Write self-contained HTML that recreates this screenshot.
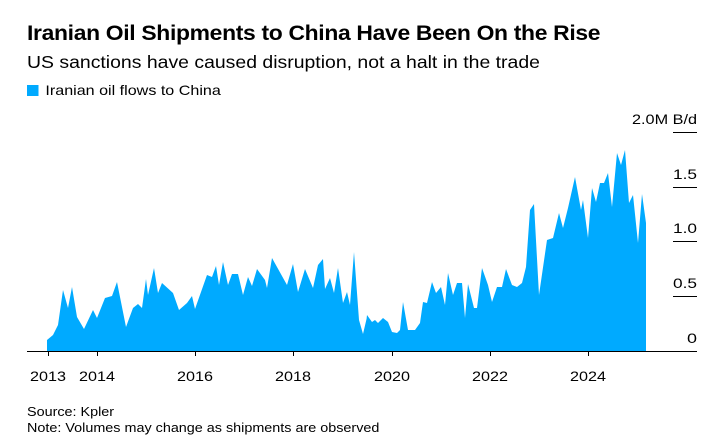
<!DOCTYPE html>
<html><head><style>
body{margin:0;background:#fff;font-family:"Liberation Sans",sans-serif;}
div{transform-origin:0 0;white-space:nowrap}
.t{position:absolute;left:27px;top:22px;font-size:21px;font-weight:bold;color:#000;letter-spacing:-0.3px;transform:scaleX(1.09)}
.s{position:absolute;left:27px;top:52px;font-size:17.5px;color:#000;transform:scaleX(1.11)}
.l{position:absolute;left:27px;top:82px;font-size:14px;color:#000;transform:scaleX(1.15)}
.l i{display:inline-block;width:10px;height:11px;background:#00aaff;margin-right:6px;vertical-align:-1px}
.f{position:absolute;left:27px;font-size:12.5px;color:#000;transform:scaleX(1.15)}
</style></head><body>
<div class="t">Iranian Oil Shipments to China Have Been On the Rise</div>
<div class="s">US sanctions have caused disruption, not a halt in the trade</div>
<div class="l"><i></i>Iranian oil flows to China</div>
<svg width="725" height="442" style="position:absolute;left:0;top:0">
<polygon fill="#00aaff" points="47,351 47,340 53,335 58,325 63,290 68,308 72,287 77,317 84,329 93,310 97,318 105,298 112,296 117,282 126,327 133,308 138,304 142,308 146,279 148,295 154,268 158,293 162,283 173,293 179,310 187,303 192,296 195,309 207,275 212,277 216,266 219,285 223,262 228,285 232,274 238,274 243,295 248,277 252,286 257,269 265,280 267,288 272,258 287,285 293,264 298,292 305,269 313,288 318,265 323,259 325,289 330,278 334,293 338,268 343,303 347,292 350,305 354,252 359,320 363,334 367,317 370,322 365,333 367,315 372,322 375,320 378,323 383,318 388,322 392,332 397,333 400,330 403,302 408,330 415,330 420,323 423,302 427,303 432,282 436,293 441,287 445,305 448,273 453,295 457,283 462,283 465,318 468,284 474,308 477,308 482,268 488,285 492,302 497,287 502,287 506,269 512,285 517,287 522,283 526,267 530,210 534,204 539,295 547,240 553,238 559,213 563,228 568,208 575,177 581,210 583,200 588,238 592,188 596,202 600,183 604,183 608,173 612,207 617,153 621,165 625,150 629,203 633,195 638,243 642,194 646,223 646,351"/>
<line x1="27" y1="351.5" x2="697" y2="351.5" stroke="#000" stroke-width="1"/>
<g stroke="#000" stroke-width="1">
<line x1="673" y1="296.5" x2="697" y2="296.5"/><line x1="673" y1="241.5" x2="697" y2="241.5"/><line x1="673" y1="187.5" x2="697" y2="187.5"/><line x1="673" y1="132.5" x2="697" y2="132.5"/>
<line x1="48.5" y1="351" x2="48.5" y2="356"/><line x1="97.5" y1="351" x2="97.5" y2="356"/><line x1="195.5" y1="351" x2="195.5" y2="356"/><line x1="293.5" y1="351" x2="293.5" y2="356"/><line x1="392.5" y1="351" x2="392.5" y2="356"/><line x1="490.5" y1="351" x2="490.5" y2="356"/><line x1="588.5" y1="351" x2="588.5" y2="356"/>
</g>
<g font-family="Liberation Sans" font-size="14" fill="#000" text-anchor="end">
<text x="697" y="343" textLength="10" lengthAdjust="spacingAndGlyphs">0</text><text x="697" y="288" textLength="24" lengthAdjust="spacingAndGlyphs">0.5</text><text x="697" y="233" textLength="24" lengthAdjust="spacingAndGlyphs">1.0</text><text x="697" y="179" textLength="24" lengthAdjust="spacingAndGlyphs">1.5</text><text x="697" y="124" textLength="65" lengthAdjust="spacingAndGlyphs">2.0M B/d</text>
</g>
<g font-family="Liberation Sans" font-size="14" fill="#000" text-anchor="middle">
<text x="48" y="381" textLength="36" lengthAdjust="spacingAndGlyphs">2013</text><text x="97" y="381" textLength="36" lengthAdjust="spacingAndGlyphs">2014</text><text x="195" y="381" textLength="36" lengthAdjust="spacingAndGlyphs">2016</text><text x="293" y="381" textLength="36" lengthAdjust="spacingAndGlyphs">2018</text><text x="392" y="381" textLength="36" lengthAdjust="spacingAndGlyphs">2020</text><text x="490" y="381" textLength="36" lengthAdjust="spacingAndGlyphs">2022</text><text x="588" y="381" textLength="36" lengthAdjust="spacingAndGlyphs">2024</text>
</g>
</svg>
<div class="f" style="top:405px">Source: Kpler</div>
<div class="f" style="top:421px">Note: Volumes may change as shipments are observed</div>
</body></html>
